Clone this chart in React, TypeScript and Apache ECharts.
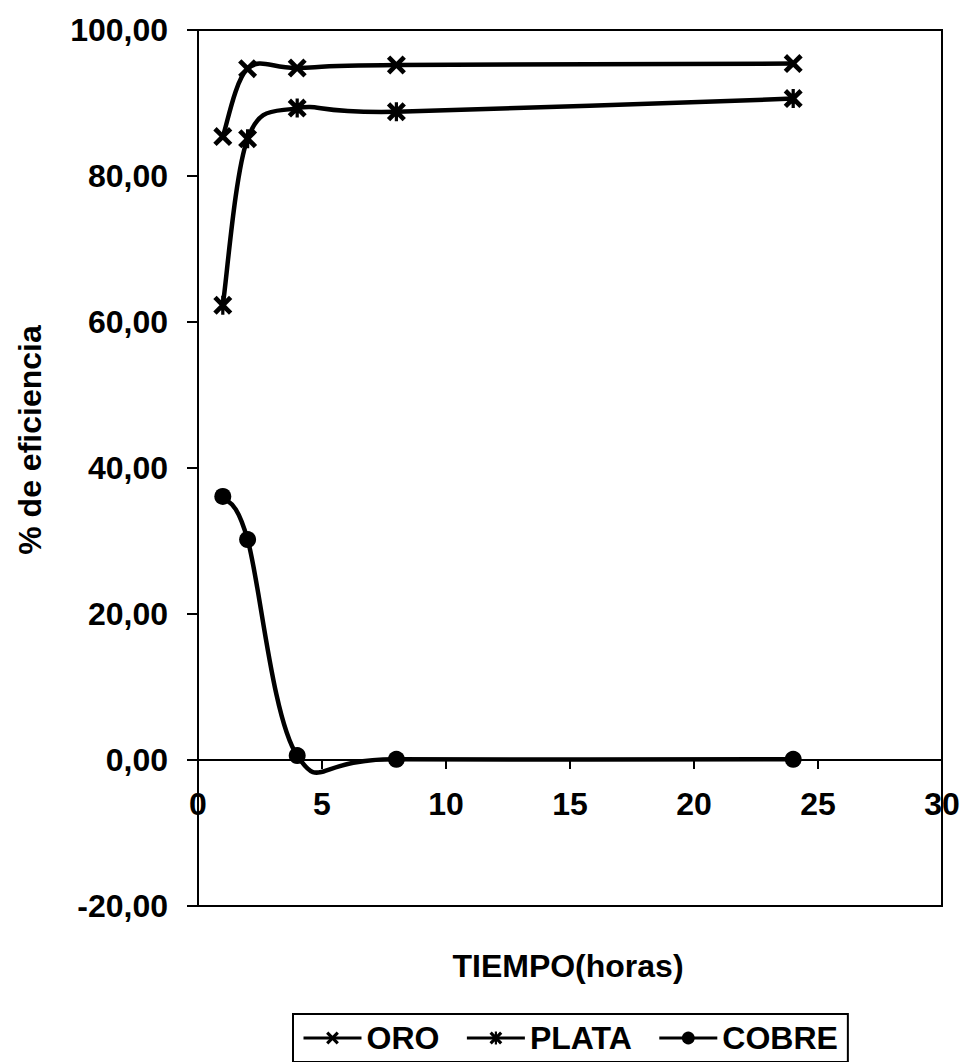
import React, { useEffect, useRef } from "react";
import * as echarts from "echarts";

// Sampling times (hours)
const tiempos = [1, 2, 4, 8, 24];
// Extraction efficiency (%) per metal
const oro = [85.4, 94.7, 94.8, 95.2, 95.4];
const plata = [62.3, 85.1, 89.3, 88.8, 90.6];
const cobre = [36.1, 30.2, 0.6, 0.1, 0.1];

const serieNames = ["ORO", "PLATA", "COBRE"];

const FONT = "'Liberation Sans', Arial, Helvetica, sans-serif";

// Marker shapes: a bold "x" and an asterisk (x with a vertical bar)
const CROSS =
  "M0,3.5 L3.5,0 L10,6.5 L16.5,0 L20,3.5 L13.5,10 L20,16.5 L16.5,20 L10,13.5 L3.5,20 L0,16.5 L6.5,10 Z";
const STAR = CROSS + " M8.3,0 L11.7,0 L11.7,20 L8.3,20 Z";

const fmt = (v: number) => v.toFixed(2).replace(".", ",");

// Spreadsheet-style smoothed curve: cubic Bezier segments whose control
// points follow the neighbouring points (Catmull-Rom, factor 1/6),
// computed in pixel space from the axis scales.
function smoothCurve(ys: number[]) {
  return (params: any, api: any) => {
    if (params.dataIndex !== 0) return null;
    const pts = tiempos.map((t, i) => api.coord([t, ys[i]]) as number[]);
    const n = pts.length;
    const children: any[] = [];
    for (let i = 0; i < n - 1; i++) {
      const p0 = pts[Math.max(i - 1, 0)];
      const p1 = pts[i];
      const p2 = pts[i + 1];
      const p3 = pts[Math.min(i + 2, n - 1)];
      children.push({
        type: "bezierCurve",
        shape: {
          x1: p1[0],
          y1: p1[1],
          cpx1: p1[0] + (p2[0] - p0[0]) / 6,
          cpy1: p1[1] + (p2[1] - p0[1]) / 6,
          cpx2: p2[0] - (p3[0] - p1[0]) / 6,
          cpy2: p2[1] - (p3[1] - p1[1]) / 6,
          x2: p2[0],
          y2: p2[1],
        },
        style: { fill: null, stroke: "#000", lineWidth: 4.5, lineCap: "round" },
      });
    }
    return { type: "group", children };
  };
}

export default function App() {
  const ref = useRef<HTMLDivElement>(null);

  useEffect(() => {
    if (!ref.current) return;
    const chart = echarts.init(ref.current, undefined, { renderer: "svg" });

    const pairs = (ys: number[]) => tiempos.map((t, i) => [t, ys[i]]);

    const curve = (ys: number[]) => ({
      type: "custom",
      data: pairs(ys),
      renderItem: smoothCurve(ys),
      silent: true,
      z: 3,
    });

    const markers = (name: string, ys: number[], symbol: string, size: number) => ({
      name,
      type: "line",
      data: pairs(ys),
      symbol,
      symbolSize: size,
      lineStyle: { color: "#000", width: 0, opacity: 0 },
      itemStyle: { color: "#000" },
      z: 5,
    });

    chart.setOption({
      animation: false,
      backgroundColor: "#fff",
      textStyle: { fontFamily: FONT },
      grid: {
        left: 198,
        top: 30,
        right: 22,
        bottom: 156,
        show: true,
        borderColor: "#000",
        borderWidth: 2,
        backgroundColor: "transparent",
      },
      xAxis: {
        type: "value",
        min: 0,
        max: 30,
        interval: 5,
        // the axis sits on the zero level of the y scale (20 of 120 units above the bottom)
        offset: -146,
        axisLine: { show: true, onZero: false, lineStyle: { color: "#000", width: 2 } },
        axisTick: { show: true, length: 9, lineStyle: { color: "#000", width: 2 } },
        axisLabel: {
          margin: 28,
          color: "#000",
          fontSize: 32,
          fontWeight: "bold",
          fontFamily: FONT,
        },
        splitLine: { show: false },
      },
      yAxis: {
        type: "value",
        min: -20,
        max: 100,
        interval: 20,
        axisLine: { show: true, onZero: false, lineStyle: { color: "#000", width: 2 } },
        axisTick: { show: true, length: 11, lineStyle: { color: "#000", width: 2 } },
        axisLabel: {
          margin: 30,
          color: "#000",
          fontSize: 32,
          fontWeight: "bold",
          fontFamily: FONT,
          formatter: fmt,
        },
        splitLine: { show: false },
      },
      legend: {
        data: serieNames,
        left: 293,
        top: 1014,
        orient: "horizontal",
        itemWidth: 58,
        itemHeight: 16,
        itemGap: 26,
        padding: [8, 10, 8, 9],
        borderColor: "#000",
        borderWidth: 2,
        lineStyle: { color: "#000", width: 3, opacity: 1 },
        textStyle: { color: "#000", fontSize: 32, fontWeight: "bold", fontFamily: FONT },
      },
      graphic: [
        {
          type: "text",
          x: 30,
          y: 440,
          rotation: Math.PI / 2,
          style: {
            text: "% de eficiencia",
            fill: "#000",
            font: `bold 32px ${FONT}`,
            textAlign: "center",
            textVerticalAlign: "middle",
          },
        },
        {
          type: "text",
          x: 568,
          y: 966,
          style: {
            text: "TIEMPO(horas)",
            fill: "#000",
            font: `bold 32px ${FONT}`,
            textAlign: "center",
            textVerticalAlign: "middle",
          },
        },
      ],
      series: [
        curve(oro),
        curve(plata),
        curve(cobre),
        markers("ORO", oro, "path://" + CROSS, 19),
        markers("PLATA", plata, "path://" + STAR, 19),
        markers("COBRE", cobre, "circle", 17),
      ],
    });

    return () => chart.dispose();
  }, []);

  return (
    <div
      ref={ref}
      style={{ position: "absolute", left: 0, top: 0, width: 964, height: 1062 }}
    />
  );
}
